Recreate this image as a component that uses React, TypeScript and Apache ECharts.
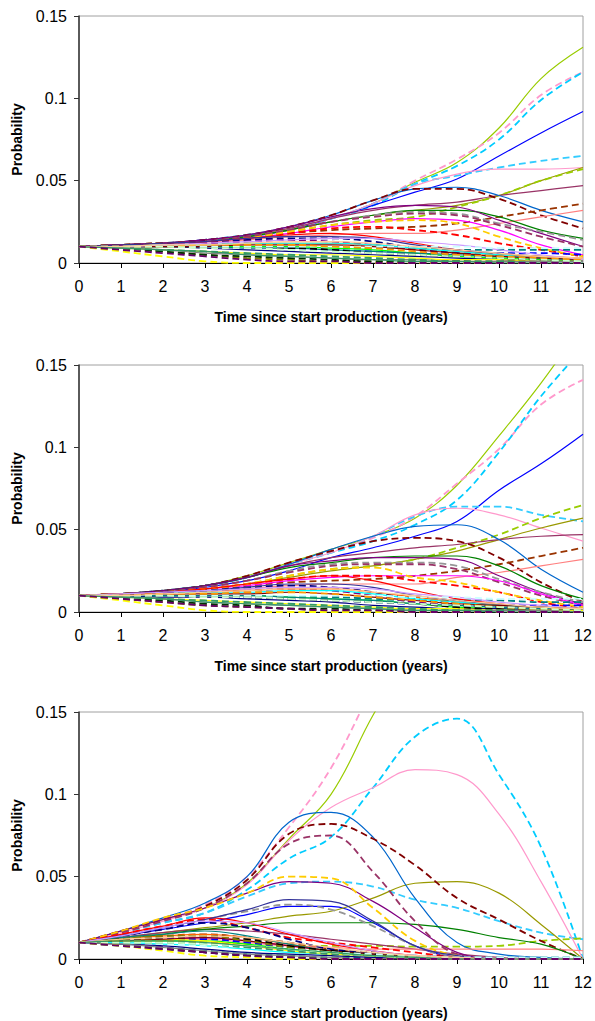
import React, { useEffect, useRef } from "react";
import * as echarts from "echarts";

const years = [0, 1, 2, 3, 4, 5, 6, 7, 8, 9, 10, 11, 12];
const xAxisTitle = "Time since start production (years)";
const yAxisTitle = "Probability";

const seriesColors = [
  "#99CC00", "#FF99CC", "#00CCFF", "#0000FF", "#33CCFF", "#FF99CC", "#999900", "#99CC00",
  "#993366", "#0066CC", "#800000", "#993300", "#FF8080", "#008000", "#800080", "#969696",
  "#993366", "#FF00FF", "#FF0000", "#FFCC00", "#008080", "#0000FF", "#000080", "#800080",
  "#FF0000", "#333399", "#FF6600", "#00FF00", "#000080", "#008080", "#00FFFF", "#FFFF00",
  "#800000", "#000000", "#808000", "#CC99FF", "#CCFFFF", "#003300", "#FF9900", "#808080",
  "#339966", "#FFFF00", "#CCFFCC", "#FFCC99", "#339966", "#660066",
];
const seriesDashed = [
  false, true, true, false, true, false, false, true,
  false, false, true, true, false, false, false, true,
  true, false, true, true, true, true, true, true,
  false, false, false, false, false, false, false, false,
  false, true, true, false, true, true, true, false,
  true, true, true, false, false, true,
];

const panel1Values: number[][] = [
  [0.010, 0.011, 0.012, 0.014, 0.0165, 0.021, 0.027, 0.036, 0.049, 0.061, 0.082, 0.112, 0.131],
  [0.010, 0.011, 0.012, 0.014, 0.017, 0.021, 0.027, 0.036, 0.050, 0.063, 0.079, 0.102, 0.116],
  [0.010, 0.011, 0.012, 0.014, 0.017, 0.021, 0.027, 0.035, 0.048, 0.059, 0.075, 0.099, 0.116],
  [0.010, 0.011, 0.012, 0.014, 0.016, 0.020, 0.027, 0.035, 0.043, 0.051, 0.065, 0.079, 0.092],
  [0.010, 0.011, 0.012, 0.014, 0.017, 0.021, 0.027, 0.036, 0.048, 0.053, 0.058, 0.062, 0.065],
  [0.010, 0.011, 0.012, 0.014, 0.017, 0.021, 0.027, 0.036, 0.047, 0.054, 0.057, 0.057, 0.058],
  [0.010, 0.011, 0.012, 0.013, 0.016, 0.020, 0.025, 0.029, 0.032, 0.035, 0.041, 0.050, 0.058],
  [0.010, 0.011, 0.012, 0.013, 0.016, 0.019, 0.023, 0.026, 0.028, 0.034, 0.041, 0.050, 0.057],
  [0.010, 0.011, 0.012, 0.014, 0.017, 0.021, 0.027, 0.032, 0.035, 0.037, 0.041, 0.044, 0.047],
  [0.010, 0.011, 0.012, 0.014, 0.017, 0.022, 0.029, 0.038, 0.045, 0.046, 0.041, 0.032, 0.025],
  [0.010, 0.011, 0.012, 0.014, 0.017, 0.022, 0.029, 0.038, 0.045, 0.045, 0.039, 0.029, 0.021],
  [0.010, 0.011, 0.012, 0.013, 0.015, 0.018, 0.020, 0.021, 0.022, 0.024, 0.028, 0.032, 0.036],
  [0.010, 0.010, 0.011, 0.012, 0.014, 0.016, 0.017, 0.018, 0.018, 0.020, 0.024, 0.028, 0.032],
  [0.010, 0.011, 0.012, 0.013, 0.016, 0.020, 0.025, 0.029, 0.032, 0.032, 0.028, 0.020, 0.015],
  [0.010, 0.011, 0.012, 0.014, 0.017, 0.022, 0.028, 0.033, 0.035, 0.034, 0.026, 0.018, 0.010],
  [0.010, 0.011, 0.012, 0.013, 0.016, 0.020, 0.025, 0.029, 0.031, 0.030, 0.024, 0.019, 0.014],
  [0.010, 0.011, 0.012, 0.013, 0.016, 0.020, 0.025, 0.028, 0.030, 0.029, 0.023, 0.016, 0.010],
  [0.010, 0.011, 0.012, 0.013, 0.015, 0.018, 0.022, 0.025, 0.027, 0.026, 0.020, 0.011, 0.005],
  [0.010, 0.011, 0.012, 0.013, 0.015, 0.018, 0.021, 0.022, 0.020, 0.017, 0.012, 0.008, 0.004],
  [0.010, 0.011, 0.012, 0.013, 0.015, 0.019, 0.023, 0.025, 0.026, 0.024, 0.016, 0.009, 0.004],
  [0.010, 0.010, 0.010, 0.010, 0.010, 0.010, 0.010, 0.009, 0.009, 0.008, 0.008, 0.008, 0.008],
  [0.010, 0.010, 0.010, 0.010, 0.010, 0.009, 0.008, 0.007, 0.006, 0.006, 0.006, 0.006, 0.005],
  [0.010, 0.011, 0.012, 0.013, 0.014, 0.015, 0.015, 0.013, 0.009, 0.006, 0.004, 0.002, 0.001],
  [0.010, 0.010, 0.011, 0.012, 0.013, 0.014, 0.013, 0.011, 0.008, 0.005, 0.003, 0.002, 0.001],
  [0.010, 0.011, 0.012, 0.013, 0.015, 0.017, 0.018, 0.016, 0.012, 0.008, 0.005, 0.003, 0.001],
  [0.010, 0.011, 0.012, 0.013, 0.015, 0.016, 0.016, 0.015, 0.011, 0.008, 0.006, 0.004, 0.002],
  [0.010, 0.010, 0.011, 0.011, 0.012, 0.012, 0.012, 0.011, 0.009, 0.007, 0.005, 0.004, 0.003],
  [0.010, 0.010, 0.010, 0.010, 0.010, 0.010, 0.009, 0.008, 0.006, 0.004, 0.003, 0.002, 0.001],
  [0.010, 0.010, 0.010, 0.009, 0.008, 0.007, 0.006, 0.005, 0.004, 0.003, 0.002, 0.001, 0.001],
  [0.010, 0.010, 0.010, 0.010, 0.009, 0.009, 0.008, 0.007, 0.006, 0.005, 0.004, 0.003, 0.002],
  [0.010, 0.010, 0.011, 0.011, 0.012, 0.012, 0.012, 0.011, 0.009, 0.007, 0.005, 0.003, 0.002],
  [0.010, 0.009, 0.008, 0.007, 0.006, 0.005, 0.005, 0.004, 0.003, 0.002, 0.002, 0.001, 0.001],
  [0.010, 0.010, 0.010, 0.010, 0.011, 0.011, 0.011, 0.010, 0.008, 0.006, 0.004, 0.003, 0.002],
  [0.010, 0.010, 0.010, 0.010, 0.009, 0.009, 0.008, 0.006, 0.005, 0.004, 0.003, 0.002, 0.001],
  [0.010, 0.009, 0.007, 0.005, 0.003, 0.002, 0.001, 0.001, 0.001, 0.001, 0.001, 0.001, 0.001],
  [0.010, 0.010, 0.011, 0.012, 0.013, 0.014, 0.015, 0.015, 0.013, 0.011, 0.008, 0.005, 0.002],
  [0.010, 0.010, 0.010, 0.010, 0.010, 0.010, 0.010, 0.010, 0.010, 0.010, 0.009, 0.009, 0.009],
  [0.010, 0.009, 0.007, 0.005, 0.004, 0.003, 0.002, 0.001, 0.001, 0.001, 0.000, 0.000, 0.000],
  [0.010, 0.010, 0.010, 0.011, 0.011, 0.011, 0.010, 0.009, 0.007, 0.005, 0.004, 0.003, 0.002],
  [0.010, 0.009, 0.008, 0.006, 0.005, 0.004, 0.003, 0.002, 0.002, 0.001, 0.001, 0.001, 0.001],
  [0.010, 0.009, 0.008, 0.007, 0.006, 0.005, 0.004, 0.003, 0.002, 0.001, 0.001, 0.000, 0.000],
  [0.010, 0.007, 0.004, 0.001, 0.000, 0.000, 0.000, 0.000, 0.000, 0.000, 0.000, 0.000, 0.000],
  [0.010, 0.010, 0.010, 0.009, 0.009, 0.008, 0.007, 0.006, 0.005, 0.004, 0.003, 0.002, 0.001],
  [0.010, 0.010, 0.011, 0.011, 0.012, 0.013, 0.013, 0.012, 0.010, 0.008, 0.006, 0.004, 0.003],
  [0.010, 0.009, 0.008, 0.007, 0.005, 0.004, 0.003, 0.002, 0.001, 0.001, 0.000, 0.000, 0.000],
  [0.010, 0.008, 0.006, 0.004, 0.002, 0.001, 0.001, 0.000, 0.000, 0.000, 0.000, 0.000, 0.000],
];

const panel2Values: number[][] = [
  [0.010, 0.011, 0.013, 0.016, 0.022, 0.030, 0.038, 0.046, 0.057, 0.077, 0.107, 0.139, 0.175],
  [0.010, 0.011, 0.013, 0.016, 0.021, 0.029, 0.037, 0.045, 0.058, 0.078, 0.099, 0.126, 0.141],
  [0.010, 0.011, 0.013, 0.016, 0.021, 0.029, 0.036, 0.043, 0.053, 0.068, 0.097, 0.131, 0.160],
  [0.010, 0.011, 0.012, 0.015, 0.019, 0.025, 0.033, 0.039, 0.046, 0.055, 0.074, 0.090, 0.108],
  [0.010, 0.011, 0.013, 0.016, 0.021, 0.029, 0.036, 0.046, 0.058, 0.064, 0.064, 0.059, 0.055],
  [0.010, 0.011, 0.013, 0.016, 0.021, 0.029, 0.036, 0.046, 0.059, 0.063, 0.059, 0.051, 0.043],
  [0.010, 0.011, 0.012, 0.014, 0.017, 0.021, 0.025, 0.028, 0.032, 0.037, 0.044, 0.051, 0.057],
  [0.010, 0.011, 0.012, 0.014, 0.017, 0.022, 0.026, 0.028, 0.032, 0.039, 0.047, 0.057, 0.065],
  [0.010, 0.011, 0.013, 0.016, 0.021, 0.028, 0.033, 0.036, 0.039, 0.041, 0.044, 0.046, 0.047],
  [0.010, 0.011, 0.013, 0.016, 0.021, 0.029, 0.038, 0.046, 0.052, 0.053, 0.044, 0.026, 0.012],
  [0.010, 0.011, 0.013, 0.016, 0.022, 0.030, 0.037, 0.043, 0.045, 0.043, 0.033, 0.018, 0.006],
  [0.010, 0.011, 0.012, 0.014, 0.016, 0.018, 0.019, 0.020, 0.022, 0.025, 0.029, 0.034, 0.039],
  [0.010, 0.010, 0.011, 0.012, 0.014, 0.016, 0.017, 0.017, 0.017, 0.021, 0.024, 0.028, 0.032],
  [0.010, 0.011, 0.013, 0.016, 0.021, 0.027, 0.030, 0.033, 0.034, 0.034, 0.028, 0.016, 0.008],
  [0.010, 0.011, 0.013, 0.016, 0.021, 0.028, 0.031, 0.033, 0.033, 0.032, 0.022, 0.012, 0.005],
  [0.010, 0.011, 0.012, 0.015, 0.019, 0.025, 0.029, 0.030, 0.030, 0.028, 0.020, 0.012, 0.006],
  [0.010, 0.011, 0.012, 0.015, 0.019, 0.024, 0.028, 0.029, 0.029, 0.026, 0.018, 0.010, 0.004],
  [0.010, 0.011, 0.012, 0.014, 0.016, 0.019, 0.021, 0.022, 0.022, 0.022, 0.019, 0.011, 0.004],
  [0.010, 0.011, 0.012, 0.014, 0.017, 0.020, 0.022, 0.022, 0.019, 0.016, 0.012, 0.006, 0.002],
  [0.010, 0.011, 0.012, 0.014, 0.017, 0.022, 0.026, 0.027, 0.021, 0.018, 0.012, 0.007, 0.003],
  [0.010, 0.010, 0.010, 0.010, 0.010, 0.009, 0.009, 0.008, 0.007, 0.007, 0.007, 0.006, 0.006],
  [0.010, 0.010, 0.010, 0.010, 0.009, 0.008, 0.007, 0.006, 0.005, 0.005, 0.004, 0.004, 0.004],
  [0.010, 0.011, 0.012, 0.013, 0.015, 0.016, 0.015, 0.012, 0.008, 0.005, 0.003, 0.002, 0.001],
  [0.010, 0.010, 0.011, 0.012, 0.013, 0.014, 0.013, 0.010, 0.006, 0.004, 0.002, 0.001, 0.001],
  [0.010, 0.011, 0.012, 0.014, 0.017, 0.020, 0.022, 0.019, 0.013, 0.008, 0.005, 0.002, 0.001],
  [0.010, 0.011, 0.012, 0.013, 0.015, 0.017, 0.017, 0.015, 0.010, 0.007, 0.004, 0.003, 0.001],
  [0.010, 0.011, 0.011, 0.012, 0.013, 0.014, 0.014, 0.012, 0.009, 0.006, 0.004, 0.003, 0.002],
  [0.010, 0.010, 0.010, 0.010, 0.010, 0.009, 0.008, 0.007, 0.005, 0.003, 0.002, 0.001, 0.001],
  [0.010, 0.010, 0.009, 0.009, 0.008, 0.007, 0.006, 0.004, 0.003, 0.002, 0.002, 0.001, 0.001],
  [0.010, 0.010, 0.010, 0.010, 0.010, 0.009, 0.008, 0.007, 0.005, 0.004, 0.003, 0.002, 0.002],
  [0.010, 0.010, 0.011, 0.012, 0.012, 0.013, 0.013, 0.011, 0.008, 0.006, 0.004, 0.003, 0.002],
  [0.010, 0.009, 0.008, 0.007, 0.006, 0.005, 0.004, 0.003, 0.002, 0.002, 0.001, 0.001, 0.001],
  [0.010, 0.010, 0.011, 0.011, 0.011, 0.012, 0.011, 0.009, 0.007, 0.005, 0.004, 0.003, 0.002],
  [0.010, 0.010, 0.010, 0.010, 0.009, 0.008, 0.007, 0.006, 0.005, 0.003, 0.002, 0.002, 0.001],
  [0.010, 0.008, 0.006, 0.004, 0.003, 0.002, 0.001, 0.001, 0.001, 0.001, 0.001, 0.001, 0.001],
  [0.010, 0.011, 0.012, 0.013, 0.014, 0.015, 0.015, 0.014, 0.011, 0.009, 0.006, 0.004, 0.002],
  [0.010, 0.010, 0.010, 0.010, 0.010, 0.010, 0.010, 0.010, 0.009, 0.009, 0.008, 0.008, 0.008],
  [0.010, 0.008, 0.007, 0.005, 0.004, 0.002, 0.002, 0.001, 0.001, 0.000, 0.000, 0.000, 0.000],
  [0.010, 0.010, 0.011, 0.011, 0.012, 0.012, 0.011, 0.009, 0.007, 0.005, 0.003, 0.002, 0.002],
  [0.010, 0.009, 0.008, 0.006, 0.005, 0.004, 0.003, 0.002, 0.001, 0.001, 0.001, 0.001, 0.000],
  [0.010, 0.009, 0.008, 0.007, 0.006, 0.005, 0.004, 0.003, 0.002, 0.001, 0.001, 0.000, 0.000],
  [0.010, 0.007, 0.004, 0.001, 0.000, 0.000, 0.000, 0.000, 0.000, 0.000, 0.000, 0.000, 0.000],
  [0.010, 0.010, 0.010, 0.009, 0.009, 0.008, 0.007, 0.006, 0.005, 0.004, 0.003, 0.002, 0.001],
  [0.010, 0.010, 0.011, 0.012, 0.013, 0.014, 0.014, 0.012, 0.010, 0.007, 0.005, 0.003, 0.002],
  [0.010, 0.009, 0.008, 0.006, 0.005, 0.004, 0.003, 0.002, 0.001, 0.001, 0.000, 0.000, 0.000],
  [0.010, 0.008, 0.006, 0.004, 0.003, 0.002, 0.001, 0.001, 0.000, 0.000, 0.000, 0.000, 0.000],
];

const panel3Values: number[][] = [
  [0.010, 0.017, 0.024, 0.031, 0.046, 0.073, 0.100, 0.148, 0.190, 0.220, 0.240, 0.250, 0.250],
  [0.010, 0.017, 0.024, 0.033, 0.050, 0.080, 0.116, 0.165, 0.210, 0.240, 0.260, 0.270, 0.270],
  [0.010, 0.016, 0.022, 0.028, 0.042, 0.061, 0.074, 0.104, 0.135, 0.146, 0.112, 0.068, 0.000],
  [0.010, 0.014, 0.018, 0.022, 0.027, 0.032, 0.032, 0.022, 0.008, 0.001, 0.000, 0.000, 0.000],
  [0.010, 0.016, 0.022, 0.028, 0.038, 0.046, 0.047, 0.044, 0.036, 0.031, 0.023, 0.016, 0.012],
  [0.010, 0.016, 0.023, 0.031, 0.045, 0.072, 0.092, 0.104, 0.115, 0.112, 0.088, 0.047, 0.000],
  [0.010, 0.013, 0.016, 0.019, 0.022, 0.026, 0.029, 0.037, 0.046, 0.047, 0.040, 0.021, 0.000],
  [0.010, 0.011, 0.011, 0.010, 0.009, 0.008, 0.008, 0.008, 0.0075, 0.0075, 0.008, 0.011, 0.0125],
  [0.010, 0.013, 0.016, 0.018, 0.017, 0.015, 0.012, 0.009, 0.006, 0.003, 0.001, 0.000, 0.000],
  [0.010, 0.017, 0.025, 0.034, 0.050, 0.083, 0.089, 0.074, 0.037, 0.010, 0.003, 0.001, 0.000],
  [0.010, 0.017, 0.024, 0.032, 0.048, 0.076, 0.082, 0.073, 0.057, 0.037, 0.024, 0.011, 0.000],
  [0.010, 0.012, 0.014, 0.015, 0.013, 0.010, 0.006, 0.003, 0.001, 0.000, 0.000, 0.000, 0.000],
  [0.010, 0.011, 0.012, 0.012, 0.010, 0.008, 0.007, 0.006, 0.006, 0.006, 0.006, 0.006, 0.005],
  [0.010, 0.012, 0.015, 0.018, 0.020, 0.022, 0.022, 0.022, 0.021, 0.018, 0.013, 0.009, 0.000],
  [0.010, 0.017, 0.024, 0.031, 0.040, 0.047, 0.046, 0.035, 0.019, 0.004, 0.000, 0.000, 0.000],
  [0.010, 0.014, 0.019, 0.024, 0.029, 0.033, 0.030, 0.020, 0.008, 0.001, 0.000, 0.000, 0.000],
  [0.010, 0.016, 0.023, 0.031, 0.046, 0.070, 0.075, 0.053, 0.023, 0.003, 0.000, 0.000, 0.000],
  [0.010, 0.011, 0.012, 0.013, 0.011, 0.008, 0.005, 0.003, 0.001, 0.000, 0.000, 0.000, 0.000],
  [0.010, 0.015, 0.020, 0.024, 0.019, 0.013, 0.010, 0.007, 0.004, 0.001, 0.000, 0.000, 0.000],
  [0.010, 0.017, 0.025, 0.031, 0.040, 0.050, 0.049, 0.031, 0.011, 0.002, 0.000, 0.000, 0.000],
  [0.010, 0.009, 0.007, 0.005, 0.003, 0.002, 0.001, 0.001, 0.001, 0.001, 0.001, 0.001, 0.001],
  [0.010, 0.011, 0.012, 0.012, 0.010, 0.007, 0.004, 0.003, 0.002, 0.001, 0.000, 0.000, 0.000],
  [0.010, 0.014, 0.018, 0.022, 0.019, 0.012, 0.006, 0.004, 0.002, 0.001, 0.000, 0.000, 0.000],
  [0.010, 0.009, 0.007, 0.004, 0.002, 0.001, 0.000, 0.000, 0.000, 0.000, 0.000, 0.000, 0.000],
  [0.010, 0.015, 0.020, 0.025, 0.022, 0.015, 0.009, 0.005, 0.002, 0.000, 0.000, 0.000, 0.000],
  [0.010, 0.014, 0.019, 0.024, 0.030, 0.036, 0.035, 0.023, 0.008, 0.002, 0.000, 0.000, 0.000],
  [0.010, 0.012, 0.014, 0.015, 0.013, 0.009, 0.005, 0.003, 0.002, 0.001, 0.000, 0.000, 0.000],
  [0.010, 0.011, 0.011, 0.011, 0.009, 0.006, 0.004, 0.002, 0.001, 0.000, 0.000, 0.000, 0.000],
  [0.010, 0.009, 0.008, 0.006, 0.004, 0.003, 0.002, 0.001, 0.000, 0.000, 0.000, 0.000, 0.000],
  [0.010, 0.013, 0.015, 0.017, 0.014, 0.009, 0.005, 0.003, 0.001, 0.000, 0.000, 0.000, 0.000],
  [0.010, 0.010, 0.009, 0.008, 0.006, 0.004, 0.003, 0.002, 0.001, 0.000, 0.000, 0.000, 0.000],
  [0.010, 0.011, 0.012, 0.011, 0.008, 0.005, 0.003, 0.002, 0.001, 0.000, 0.000, 0.000, 0.000],
  [0.010, 0.011, 0.012, 0.013, 0.011, 0.008, 0.005, 0.003, 0.001, 0.000, 0.000, 0.000, 0.000],
  [0.010, 0.012, 0.013, 0.014, 0.012, 0.008, 0.005, 0.003, 0.001, 0.000, 0.000, 0.000, 0.000],
  [0.010, 0.012, 0.014, 0.014, 0.011, 0.007, 0.004, 0.002, 0.001, 0.000, 0.000, 0.000, 0.000],
  [0.010, 0.014, 0.019, 0.023, 0.022, 0.016, 0.010, 0.005, 0.002, 0.000, 0.000, 0.000, 0.000],
  [0.010, 0.010, 0.009, 0.008, 0.007, 0.005, 0.004, 0.003, 0.002, 0.001, 0.001, 0.001, 0.001],
  [0.010, 0.008, 0.006, 0.004, 0.002, 0.001, 0.000, 0.000, 0.000, 0.000, 0.000, 0.000, 0.000],
  [0.010, 0.011, 0.011, 0.010, 0.008, 0.005, 0.003, 0.002, 0.001, 0.000, 0.000, 0.000, 0.000],
  [0.010, 0.009, 0.007, 0.005, 0.003, 0.002, 0.001, 0.000, 0.000, 0.000, 0.000, 0.000, 0.000],
  [0.010, 0.010, 0.010, 0.009, 0.007, 0.005, 0.003, 0.002, 0.001, 0.000, 0.000, 0.000, 0.000],
  [0.010, 0.008, 0.005, 0.002, 0.001, 0.000, 0.000, 0.000, 0.000, 0.000, 0.000, 0.000, 0.000],
  [0.010, 0.010, 0.010, 0.009, 0.008, 0.006, 0.004, 0.002, 0.001, 0.000, 0.000, 0.000, 0.000],
  [0.010, 0.012, 0.013, 0.014, 0.013, 0.010, 0.007, 0.004, 0.002, 0.001, 0.000, 0.000, 0.000],
  [0.010, 0.011, 0.011, 0.010, 0.008, 0.006, 0.004, 0.002, 0.001, 0.000, 0.000, 0.000, 0.000],
  [0.010, 0.008, 0.006, 0.004, 0.002, 0.001, 0.000, 0.000, 0.000, 0.000, 0.000, 0.000, 0.000],
];

const panels = [panel1Values, panel2Values, panel3Values];
const gridTops = [16, 365, 712];

const FONT = "'Liberation Sans', Arial, sans-serif";

export default function App() {
  const ref = useRef<HTMLDivElement>(null);

  useEffect(() => {
    document.body.style.margin = "0";
    if (!ref.current) return;
    const chart = echarts.init(ref.current, undefined, { renderer: "svg" });

    const grid = gridTops.map((top) => ({
      left: 79,
      top,
      width: 504,
      height: 247,
      show: true,
      borderColor: "#A0A0A0",
      borderWidth: 1,
      backgroundColor: "transparent",
    }));

    const xAxis = gridTops.map((_, i) => ({
      type: "value",
      gridIndex: i,
      min: 0,
      max: 12,
      interval: 1,
      name: xAxisTitle,
      nameLocation: "middle",
      nameGap: 47,
      nameTextStyle: { fontFamily: FONT, fontSize: 14, fontWeight: "bold", color: "#000" },
      axisLine: { show: true, onZero: false, lineStyle: { color: "#000", width: 1 } },
      axisTick: { show: true, length: 5, lineStyle: { color: "#000" } },
      axisLabel: { fontFamily: FONT, fontSize: 16, color: "#000", margin: 15 },
      splitLine: { show: false },
    }));

    const yAxis = gridTops.map((_, i) => ({
      type: "value",
      gridIndex: i,
      min: 0,
      max: 0.15,
      interval: 0.05,
      name: yAxisTitle,
      nameLocation: "middle",
      nameRotate: 90,
      nameGap: 55,
      nameTextStyle: { fontFamily: FONT, fontSize: 14, fontWeight: "bold", color: "#000" },
      axisLine: { show: true, lineStyle: { color: "#333", width: 1.5 } },
      axisTick: { show: true, length: 5, lineStyle: { color: "#333" } },
      axisLabel: {
        fontFamily: FONT,
        fontSize: 16,
        color: "#000",
        margin: 12,
        formatter: (v: number) => String(Math.round(v * 100) / 100),
      },
      splitLine: { show: false },
    }));

    const series: any[] = [];
    panels.forEach((values, p) => {
      values.forEach((vals, s) => {
        const dashed = seriesDashed[s];
        series.push({
          type: "line",
          xAxisIndex: p,
          yAxisIndex: p,
          data: years.map((x, k) => [x, vals[k]]),
          smooth: 0.4,
          showSymbol: false,
          symbol: "none",
          clip: true,
          z: 2,
          lineStyle: {
            color: seriesColors[s],
            width: dashed ? 1.8 : 1.2,
            type: dashed ? [7, 4] : "solid",
          },
        });
      });
    });

    chart.setOption({
      animation: false,
      backgroundColor: "#fff",
      grid,
      xAxis,
      yAxis,
      series,
    });

    return () => chart.dispose();
  }, []);

  return (
    <div
      ref={ref}
      style={{ position: "absolute", left: 0, top: 0, width: 595, height: 1021 }}
    />
  );
}
